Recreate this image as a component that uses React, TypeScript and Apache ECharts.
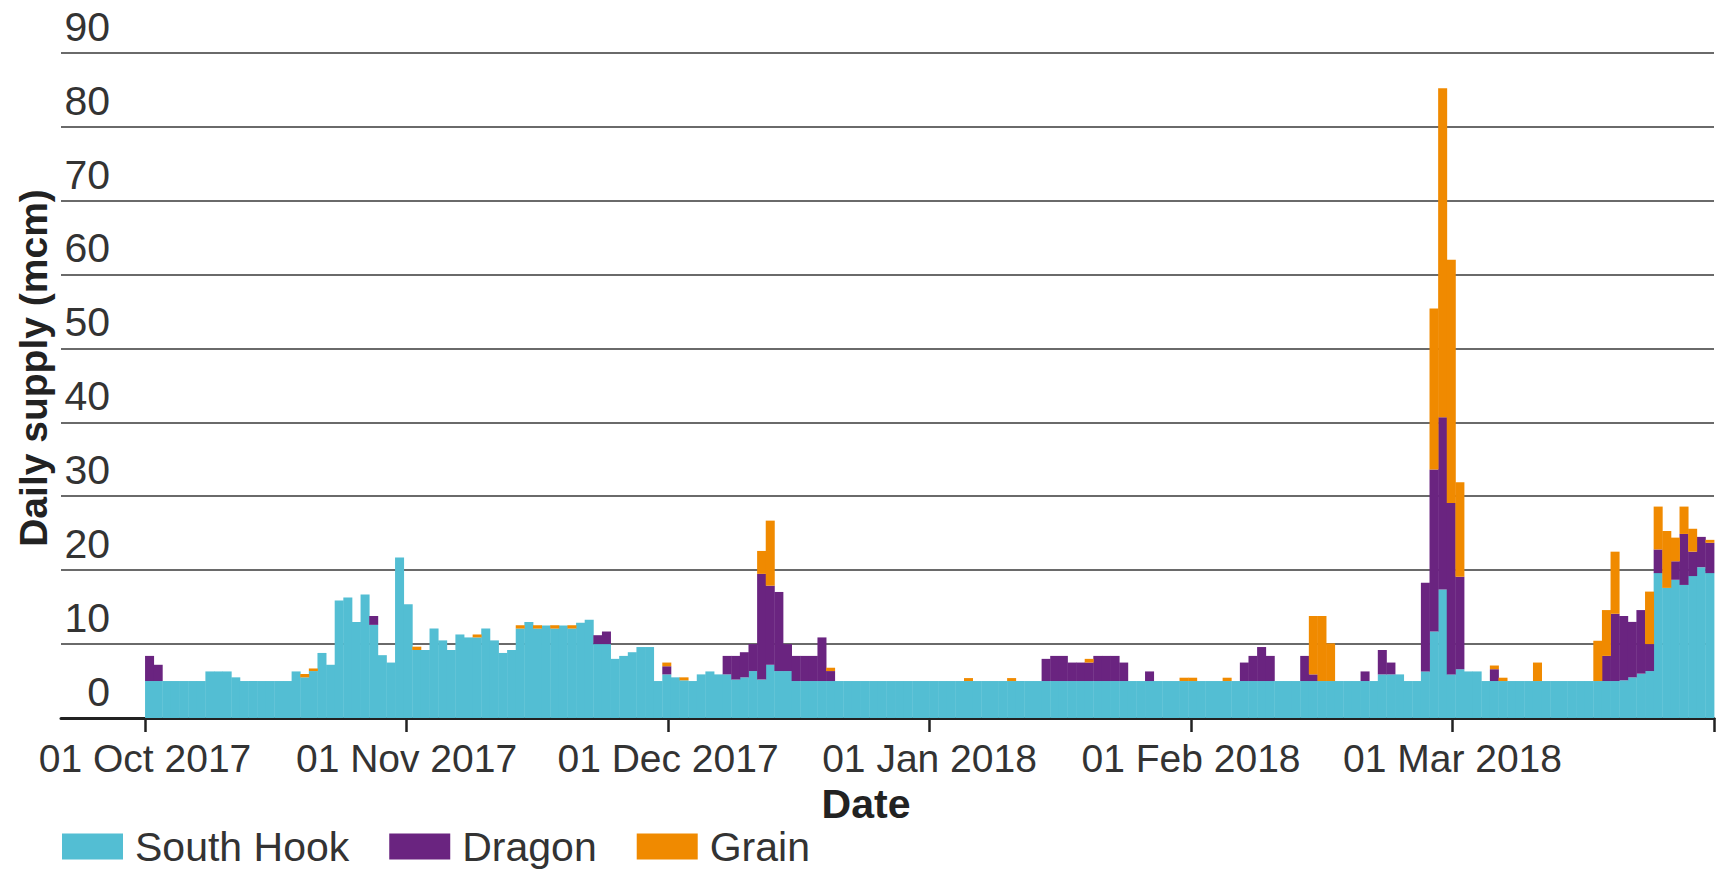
import React, { useEffect, useRef } from "react";
import * as echarts from "echarts";

// Daily supply (mcm), one value per day from 01 Oct 2017 to 31 Mar 2018 (182 days)
const southHook: number[] = [
  5, 5, 5, 5, 5, 5, 5, 6.3, 6.3, 6.3,
  5.5, 5, 5, 5, 5, 5, 5, 6.3, 5.5, 6.35,
  8.8, 7.2, 15.9, 16.3, 13, 16.7, 12.6, 8.5, 7.5, 21.7,
  15.4, 9.2, 9.2, 12.1, 10.5, 9.2, 11.3, 10.9, 10.9, 12.1,
  10.5, 8.8, 9.2, 12.1, 13, 12.1, 12.5, 12.1, 12.5, 12.1,
  12.9, 13.3, 10, 10, 8, 8.4, 8.9, 9.6, 9.6, 5,
  5.9, 5.5, 5.1, 5, 5.9, 6.3, 5.9, 5.9, 5.2, 5.5,
  6.35, 5.2, 7.2, 6.35, 6.35, 5, 5, 5, 5, 5,
  5, 5, 5, 5, 5, 5, 5, 5, 5, 5,
  5, 5, 5, 5, 5, 5, 5, 5, 5, 5,
  5, 5, 5, 5, 5, 5, 5, 5, 5, 5,
  5, 5, 5, 5, 5, 5, 5, 5, 5, 5,
  5, 5, 5, 5, 5, 5, 5, 5, 5, 5,
  5, 5, 5, 5, 5, 5, 5, 5, 5, 5,
  5, 5, 5, 5.9, 5.9, 5.9, 5, 5, 6.3, 11.7,
  17.4, 5.9, 6.6, 6.3, 6.3, 5, 5, 5, 5, 5,
  5, 5, 5, 5, 5, 5, 5, 5, 5, 5,
  5, 5.1, 5.5, 6, 6.35, 19.6, 17.6, 18.7, 18, 19.2,
  20.4, 19.6,
];

const dragon: number[] = [
  3.4, 2.2, 0, 0, 0, 0, 0, 0, 0, 0,
  0, 0, 0, 0, 0, 0, 0, 0, 0, 0,
  0, 0, 0, 0, 0, 0, 1.2, 0, 0, 0,
  0, 0, 0, 0, 0, 0, 0, 0, 0, 0,
  0, 0, 0, 0, 0, 0, 0, 0, 0, 0,
  0, 0, 1.2, 1.7, 0, 0, 0, 0, 0, 0,
  1.1, 0, 0, 0, 0, 0, 0, 2.5, 3.2, 3.4,
  3.65, 14.3, 10.7, 10.7, 3.65, 3.4, 3.4, 3.4, 5.9, 1.35,
  0, 0, 0, 0, 0, 0, 0, 0, 0, 0,
  0, 0, 0, 0, 0, 0, 0, 0, 0, 0,
  0, 0, 0, 0, 3, 3.4, 3.4, 2.5, 2.5, 2.5,
  3.4, 3.4, 3.4, 2.5, 0, 0, 1.3, 0, 0, 0,
  0, 0, 0, 0, 0, 0, 0, 2.5, 3.4, 4.6,
  3.4, 0, 0, 0, 3.4, 0.9, 0, 0, 0, 0,
  0, 1.3, 0, 3.3, 1.6, 0, 0, 0, 12, 21.9,
  23.3, 23.2, 12.5, 0, 0, 0, 1.6, 0, 0, 0,
  0, 0, 0, 0, 0, 0, 0, 0, 0, 3.4,
  9.1, 8.7, 7.5, 8.6, 3.65, 3.2, 0, 2.5, 6.9, 3.3,
  4.1, 4.1,
];

const grain: number[] = [
  0, 0, 0, 0, 0, 0, 0, 0, 0, 0,
  0, 0, 0, 0, 0, 0, 0, 0, 0.45, 0.35,
  0, 0, 0, 0, 0, 0, 0, 0, 0, 0,
  0, 0.45, 0, 0, 0, 0, 0, 0, 0.4, 0,
  0, 0, 0, 0.45, 0, 0.45, 0, 0.45, 0, 0.45,
  0, 0, 0, 0, 0, 0, 0, 0, 0, 0,
  0.5, 0, 0.4, 0, 0, 0, 0, 0, 0, 0,
  0, 3.1, 8.8, 0, 0, 0, 0, 0, 0, 0.45,
  0, 0, 0, 0, 0, 0, 0, 0, 0, 0,
  0, 0, 0, 0, 0, 0.4, 0, 0, 0, 0,
  0.4, 0, 0, 0, 0, 0, 0, 0, 0, 0.5,
  0, 0, 0, 0, 0, 0, 0, 0, 0, 0,
  0.45, 0.45, 0, 0, 0, 0.45, 0, 0, 0, 0,
  0, 0, 0, 0, 0, 7.9, 8.8, 5.1, 0, 0,
  0, 0, 0, 0, 0, 0, 0, 0, 0, 21.8,
  44.5, 32.9, 12.8, 0, 0, 0, 0.5, 0.45, 0, 0,
  0, 2.5, 0, 0, 0, 0, 0, 0, 5.45, 6.2,
  8.4, 0, 0, 0, 7.1, 5.8, 7.7, 3.2, 3.7, 3.1,
  0, 0.4,
];

const tickLabels: string[] = [
  "01 Oct 2017",
  "01 Nov 2017",
  "01 Dec 2017",
  "01 Jan 2018",
  "01 Feb 2018",
  "01 Mar 2018",
];
// positions (in days from 01 Oct 2017) where the reference draws its ticks
const tickDays: number[] = [0, 30.333, 60.667, 91, 121.333, 151.667, 182];

const seriesNames = ["South Hook", "Dragon", "Grain"];
const colors = ["#53BED3", "#6A2480", "#F08A00"];

const FONT = "'Liberation Sans', Arial, Helvetica, sans-serif";

export default function App() {
  const ref = useRef<HTMLDivElement>(null);

  useEffect(() => {
    document.body.style.margin = "0";
    if (!ref.current) return;
    const chart = echarts.init(ref.current, null, { renderer: "svg" });
    const all = [southHook, dragon, grain];
    // stacking: each layer starts on the sum of the layers below it
    const bases = all.map((_, k) =>
      southHook.map((__, i) => {
        let s = 0;
        for (let j = 0; j < k; j++) s += all[j][i];
        return s;
      })
    );

    chart.setOption({
      animation: false,
      color: colors,
      textStyle: { fontFamily: FONT },
      grid: { left: 61, right: 5, top: 52.7, bottom: 155, containLabel: false },
      legend: {
        left: 62,
        top: 826,
        padding: 0,
        itemWidth: 61,
        itemHeight: 26,
        itemGap: 40,
        icon: "rect",
        data: seriesNames,
        textStyle: { fontSize: 41, color: "#333", fontFamily: FONT, padding: [0, 0, 0, 7] },
      },
      xAxis: {
        type: "value",
        min: -9.75,
        max: 182,
        splitLine: { show: false },
        axisLine: { show: true, lineStyle: { color: "#222", width: 3 } },
        axisTick: {
          show: true,
          customValues: tickDays,
          length: 14,
          lineStyle: { color: "#222", width: 2.5 },
        },
        axisLabel: {
          customValues: tickDays.slice(0, tickLabels.length),
          formatter: (v: number) => {
            const idx = tickDays.findIndex((t) => Math.abs(t - v) < 0.01);
            return idx >= 0 && idx < tickLabels.length ? tickLabels[idx] : "";
          },
          fontSize: 39,
          color: "#333",
          margin: 21,
          fontFamily: FONT,
        },
      },
      yAxis: {
        type: "value",
        min: 0,
        max: 90,
        interval: 10,
        axisLine: { show: false },
        axisTick: { show: false },
        splitLine: { show: true, lineStyle: { color: "#6a6a6a", width: 2 } },
        axisLabel: {
          inside: true,
          align: "right",
          margin: 49,
          verticalAlign: "bottom",
          padding: [0, 0, 5.5, 0],
          fontSize: 41,
          color: "#333",
          fontFamily: FONT,
        },
      },
      graphic: [
        {
          type: "text",
          x: 33,
          y: 368,
          rotation: Math.PI / 2,
          style: {
            text: "Daily supply (mcm)",
            fontSize: 39,
            fontWeight: "bold",
            fontFamily: FONT,
            fill: "#222",
            textAlign: "center",
            textVerticalAlign: "middle",
          },
        },
        {
          type: "text",
          x: 866,
          y: 804,
          style: {
            text: "Date",
            fontSize: 41,
            fontWeight: "bold",
            fontFamily: FONT,
            fill: "#222",
            textAlign: "center",
            textVerticalAlign: "middle",
          },
        },
      ],
      series: seriesNames.map((name, k) => ({
        name,
        type: "custom",
        itemStyle: { color: colors[k] },
        encode: { x: 0, y: 1 },
        data: all[k].map((v, i) => [i, v, bases[k][i]]),
        renderItem: (params: any, api: any) => {
          const i = api.value(0);
          const v = api.value(1);
          const b = api.value(2);
          if (!v) return null;
          const p0 = api.coord([i, b]);
          const p1 = api.coord([i + 1, b + v]);
          return {
            type: "rect",
            shape: {
              x: p0[0],
              y: p1[1],
              width: p1[0] - p0[0] + 0.4,
              height: p0[1] - p1[1],
            },
            style: { fill: colors[k] },
          };
        },
      })),
    });

    return () => chart.dispose();
  }, []);

  return <div ref={ref} style={{ width: 1719, height: 873 }} />;
}
